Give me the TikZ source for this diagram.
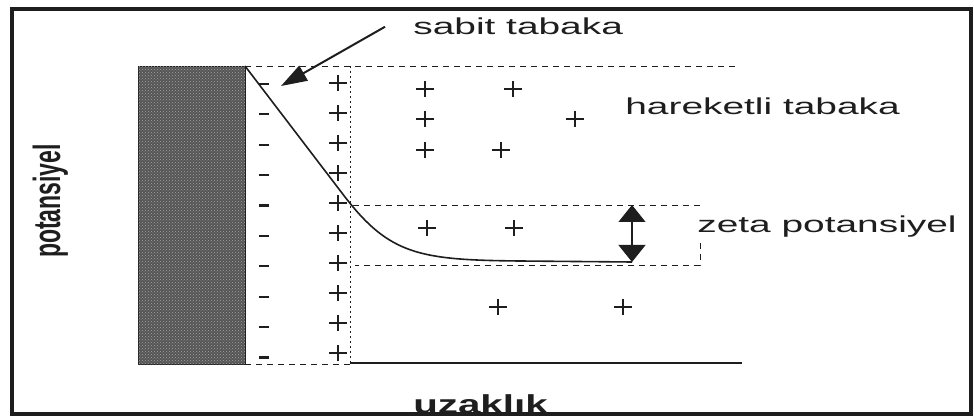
\documentclass[tikz,border=0pt]{standalone}
\usepackage{fontspec}
\setmainfont{Liberation Sans}
\usetikzlibrary{arrows.meta, patterns}
\definecolor{ink}{HTML}{1E1E1E}
\definecolor{wallgray}{HTML}{555555}
\definecolor{speck}{HTML}{A4A4A4}

\begin{document}
\begin{tikzpicture}[
  x=1pt, y=-1pt,
  >={Triangle[length=17pt, width=27pt]},
  lbl/.style={ink, font=\fontsize{23}{27}\selectfont, xscale=1.69, inner sep=0pt},
  axlbl/.style={ink, font=\fontsize{23}{27}\selectfont\bfseries, inner sep=0pt},
  layer/.style={ink, line width=0.9pt, dash pattern=on 6pt off 5pt},
  fineline/.style={ink, line width=0.8pt, dash pattern=on 2pt off 3pt},
  charge/.style={ink, line width=1.4pt},
  pointer/.style={ink, line width=2pt, -{Triangle[length=26pt, width=17pt]}},
]

% ══════════════════════════════════════════════════════
% Canvas (pixel grid, y pointing down)
% ══════════════════════════════════════════════════════
\useasboundingbox (0,0) rectangle (974,419);
\fill[white] (0,0) rectangle (974,419);

% ══════════════════════════════════════════════════════
% Solid wall
% ══════════════════════════════════════════════════════
\filldraw[wallgray, draw=ink, line width=0.6pt] (138,66) rectangle (245,364);
\fill[pattern=crosshatch dots, pattern color=speck] (138,66) rectangle (245,364);

% ══════════════════════════════════════════════════════
% Layer boundaries
% ══════════════════════════════════════════════════════
\draw[layer] (245,66) -- (735,66);
\draw[layer] (245,364) -- (350,364);
\draw[fineline] (350,66) -- (350,364);
\draw[ink, line width=1.2pt] (350,363) -- (742,363);

% zeta band
\draw[layer] (353,205) -- (700,205);
\draw[layer] (700,243) -- (700,265) -- (355,265);

% ══════════════════════════════════════════════════════
% Potential curve
% ══════════════════════════════════════════════════════
\draw[ink, line width=1.6pt]
  (245,66) -- (345,197) .. controls (390,255) and (420,260) .. (520,261) -- (632,262);

% ══════════════════════════════════════════════════════
% Charges
% ══════════════════════════════════════════════════════
% negative charges on the wall
\foreach \i in {0,...,9}{
  \draw[ink, line width=2.2pt] (259,84+30.4*\i) -- (269,84+30.4*\i);
}

% positive charges of the fixed layer
\foreach \i in {0,...,9}{
  \draw[charge] (329,83+30*\i) -- (347,83+30*\i) (338,75+30*\i) -- (338,91+30*\i);
}

% positive charges of the mobile layer
\foreach \px/\py in {%
  425/89, 513/89,%
  425/119, 575/119,%
  425/150, 501/150,%
  427/228, 514/228,%
  498/307, 623/307%
}{
  \draw[charge] (\px-9,\py) -- (\px+9,\py) (\px,\py-8) -- (\px,\py+8);
}

% ══════════════════════════════════════════════════════
% Labels
% ══════════════════════════════════════════════════════
\node[lbl, anchor=base west] (sabit) at (413,35) {sabit tabaka};
\node[lbl, anchor=base west] (hareketli) at (625,115) {hareketli tabaka};
\node[lbl, anchor=base west] (zeta) at (697,233) {zeta potansiyel};

\node[axlbl, anchor=base west, xscale=1.65, rotate=90] (potansiyel) at (60,258) {potansiyel};
\node[axlbl, font=\fontsize{26}{30}\selectfont\bfseries, xscale=1.55, anchor=base west]
  (uzaklik) at (413,413) {uzaklık};

% ══════════════════════════════════════════════════════
% Arrows
% ══════════════════════════════════════════════════════
\coordinate (sabittail) at ([xshift=-28pt]sabit.west);
\coordinate (sabittip) at (281,86);
\draw[pointer] (sabittail) -- (sabittip);

\coordinate (zetatop) at (632,205);
\coordinate (zetabot) at (632,262);
\draw[ink, line width=1.2pt, <->] (zetatop) -- (zetabot);

% ══════════════════════════════════════════════════════
% Frame
% ══════════════════════════════════════════════════════
\draw[ink, line width=4pt] (12,9) rectangle (971,414);

\end{tikzpicture}
\end{document}
